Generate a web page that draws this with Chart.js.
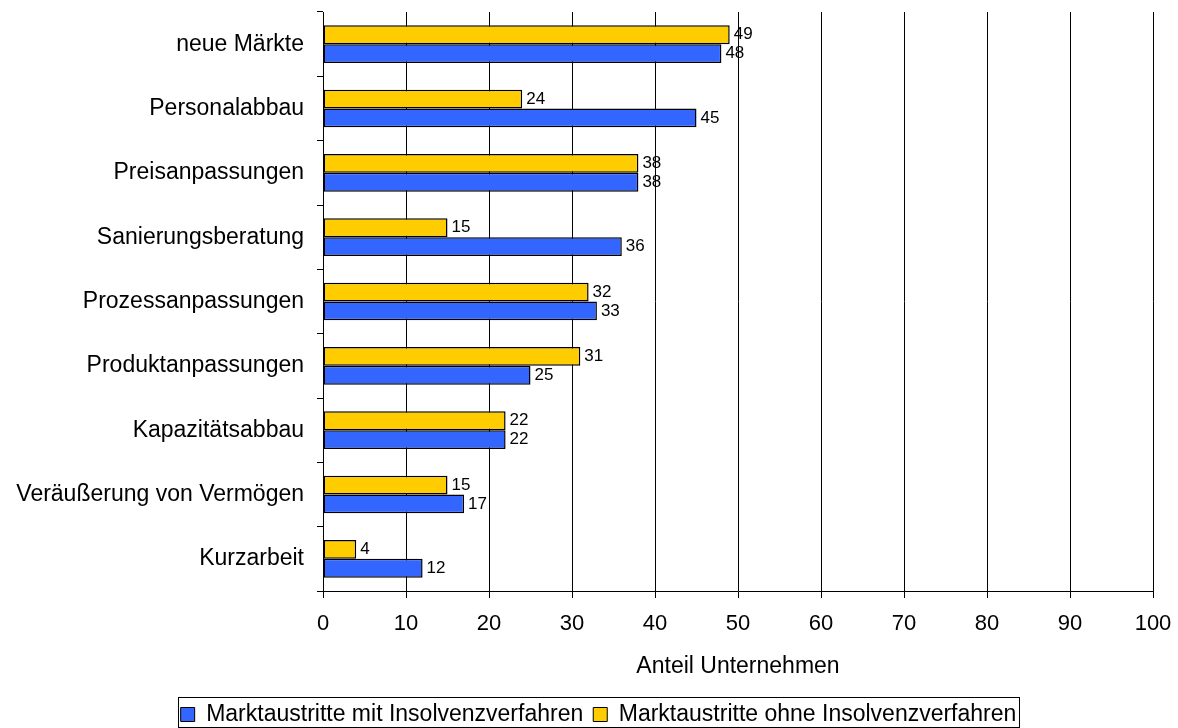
<!DOCTYPE html>
<html><head><meta charset="utf-8">
<script src="https://cdn.jsdelivr.net/npm/chart.js@4/dist/chart.umd.min.js"></script>
<style>html,body{margin:0;padding:0;background:#fff}#wrap{width:1178px;height:728px}</style>
</head><body><div id="wrap"><canvas id="c" width="1178" height="728"></canvas></div>
<script>
const categories = ['neue Märkte','Personalabbau','Preisanpassungen','Sanierungsberatung','Prozessanpassungen','Produktanpassungen','Kapazitätsabbau','Veräußerung von Vermögen','Kurzarbeit'];
const mitInsolvenz = [48,45,38,36,33,25,22,17,12];
const ohneInsolvenz = [49,24,38,15,32,31,22,15,4];
const seriesNames = ['Marktaustritte mit Insolvenzverfahren','Marktaustritte ohne Insolvenzverfahren'];
const xTickValues = [0,10,20,30,40,50,60,70,80,90,100];
const axisTitle = 'Anteil Unternehmen';

const FONT = '"Liberation Sans", Arial, sans-serif';
const LEGEND_CENTER_X = 598;

const valueLabels = {
  id: 'valueLabels',
  afterDatasetsDraw(chart) {
    const ctx = chart.ctx;
    ctx.save();
    ctx.font = '17px ' + FONT;
    ctx.fillStyle = '#000';
    ctx.textAlign = 'left';
    ctx.textBaseline = 'middle';
    chart.data.datasets.forEach((ds, di) => {
      const meta = chart.getDatasetMeta(di);
      meta.data.forEach((el, i) => {
        ctx.fillText(String(ds.data[i]), el.x + 4, el.y);
      });
    });
    ctx.restore();
  }
};

function legendExtent(lg) {
  let l = Infinity, r = -Infinity, t = Infinity, b = -Infinity;
  lg.legendHitBoxes.forEach(h => {
    l = Math.min(l, h.left); r = Math.max(r, h.left + h.width);
    t = Math.min(t, h.top); b = Math.max(b, h.top + h.height);
  });
  return { l, r, t, b };
}

const legendBorder = {
  id: 'legendBorder',
  afterUpdate(chart) {
    const lg = chart.legend;
    if (!lg || !lg.legendHitBoxes || !lg.legendHitBoxes.length) return;
    const e = legendExtent(lg);
    const shift = Math.round(LEGEND_CENTER_X - (e.l + e.r) / 2);
    lg.left += shift; lg.right += shift;
    lg.legendHitBoxes.forEach(h => { h.left += shift; });
  },
  afterDraw(chart) {
    const lg = chart.legend;
    if (!lg || !lg.legendHitBoxes || !lg.legendHitBoxes.length) return;
    const e = legendExtent(lg);
    const ctx = chart.ctx;
    ctx.save();
    ctx.strokeStyle = '#000';
    ctx.lineWidth = 1;
    const x0 = Math.round(e.l - 3) + 0.5, y0 = Math.round(e.t - 6) + 0.5;
    const x1 = Math.round(e.r + 3) + 0.5, y1 = Math.min(chart.height - 1, Math.round(e.b + 1)) + 0.5;
    ctx.strokeRect(x0, y0, x1 - x0, y1 - y0);
    ctx.restore();
  }
};

new Chart(document.getElementById('c'), {
  type: 'bar',
  data: {
    labels: categories,
    datasets: [
      { label: seriesNames[1], data: ohneInsolvenz, backgroundColor: '#FFCC00', borderColor: '#000', borderWidth: 1.5, borderSkipped: false },
      { label: seriesNames[0], data: mitInsolvenz, backgroundColor: '#3366FF', borderColor: '#000', borderWidth: 1.5, borderSkipped: false }
    ]
  },
  options: {
    indexAxis: 'y',
    responsive: false,
    animation: false,
    devicePixelRatio: 1,
    datasets: { bar: { categoryPercentage: 0.586, barPercentage: 1 } },
    layout: { padding: { left: 0, right: 25, top: 12, bottom: -8 } },
    plugins: {
      tooltip: { enabled: false },
      legend: {
        position: 'bottom',
        reverse: true,
        labels: {
          color: '#000',
          font: { family: FONT, size: 23 },
          boxWidth: 14, boxHeight: 14, padding: 10,
          generateLabels(chart) {
            return chart.data.datasets.map((ds, i) => ({
              text: ds.label, fillStyle: ds.backgroundColor, strokeStyle: '#000', lineWidth: 1, datasetIndex: i, hidden: false
            }));
          }
        }
      }
    },
    scales: {
      x: {
        min: 0, max: 100,
        afterBuildTicks(scale) { scale.ticks = xTickValues.map(v => ({ value: v })); },
        afterFit(scale) { scale.height = 102; scale.paddingLeft = 0; scale.paddingRight = 0; scale.paddingTop = 0; scale.paddingBottom = 0; },
        ticks: { color: '#000', font: { family: FONT, size: 22 }, padding: 13, maxRotation: 0 },
        grid: { color: '#000', lineWidth: 1, tickLength: 7, drawOnChartArea: true },
        border: { color: '#000', width: 1 },
        title: { display: true, text: axisTitle, color: '#000', font: { family: FONT, size: 23, lineHeight: 1 }, padding: { top: 0, bottom: 15 } }
      },
      y: {
        afterFit(scale) { scale.width = 323; scale.paddingLeft = 0; scale.paddingRight = 0; scale.paddingTop = 0; scale.paddingBottom = 0; },
        ticks: { color: '#000', font: { family: FONT, size: 23 }, padding: 13, autoSkip: false },
        grid: { display: true, drawOnChartArea: false, color: '#000', tickLength: 6, offset: true },
        border: { color: '#000', width: 1 }
      }
    }
  },
  plugins: [valueLabels, legendBorder]
});
</script>
</body></html>
